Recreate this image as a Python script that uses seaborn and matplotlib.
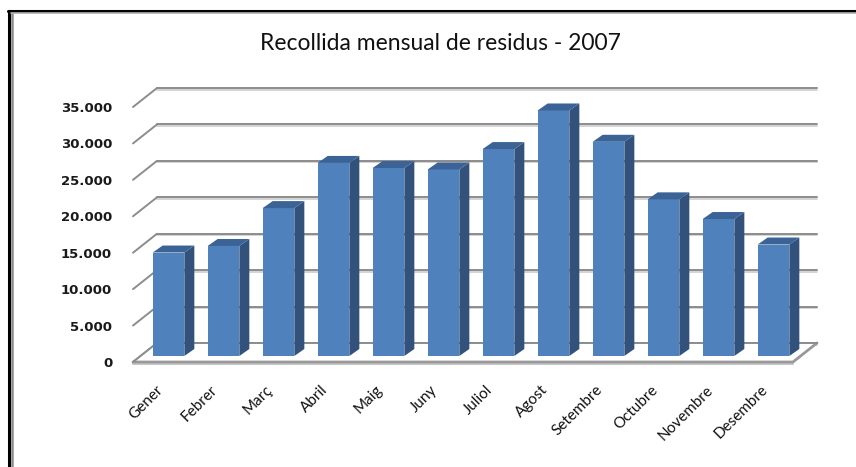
import matplotlib
matplotlib.use("Agg")
import numpy as np
import pandas as pd
import seaborn as sns
import matplotlib.pyplot as plt
from matplotlib.transforms import Affine2D, IdentityTransform
from matplotlib.patches import Polygon
from matplotlib.lines import Line2D

# ---- data ----
months = ["Gener", "Febrer", "Març", "Abril", "Maig", "Juny",
          "Juliol", "Agost", "Setembre", "Octubre", "Novembre", "Desembre"]
values = [14200, 15100, 20300, 26500, 25800, 25600,
          28400, 33700, 29400, 21500, 18800, 15300]
yticks = [0, 5000, 10000, 15000, 20000, 25000, 30000, 35000]
ytick_labels = ["0", "5.000", "10.000", "15.000", "20.000", "25.000", "30.000", "35.000"]
title = "Recollida mensual de residus - 2007"

sns.set_theme(style="white")
plt.rcParams["font.family"] = ["DejaVu Sans"]

W, H = 856, 467
fig = plt.figure(figsize=(W / 100, H / 100), dpi=100)
fig.patch.set_facecolor("white")

# front plane of the 3-D box
ax = fig.add_axes([133 / W, 105 / H, 660 / W, 255 / H])
ax.set_facecolor("none")

df = pd.DataFrame({"mes": months, "tones": values})
sns.barplot(data=df, x="mes", y="tones", color="#4F81BD", saturation=1,
            width=0.576, linewidth=0, ax=ax, zorder=5)
ax.set_xlim(-0.5, 11.5)
ax.set_ylim(0, 35000)

FRONT = "#4F81BD"
SIDE = "#32527C"
TOP = "#3B6396"
GRID = "#8C8C8C"

# depth offsets in pixels
WALL = (24, 19)      # back wall offset from front plane
BAR_OFF = (8, 6)     # bar front face offset
BAR_D = (10, 7)      # bar depth

wall_tr = ax.transData + Affine2D().translate(*WALL)
ident = IdentityTransform()

# back wall gridlines
for v in yticks:
    ax.plot([-0.5, 11.5], [v, v], transform=wall_tr + Affine2D().translate(0, -1.5),
            color="#D0D0D0", lw=1.3, clip_on=False, zorder=1)
    ax.plot([-0.5, 11.5], [v, v], transform=wall_tr, color=GRID, lw=1.4,
            clip_on=False, zorder=1.1)
    # left side wall diagonal
    (x0, y0) = ax.transData.transform((-0.5, v))
    ax.plot([x0, x0 + WALL[0]], [y0, y0 + WALL[1]], transform=ident,
            color=GRID, lw=1.4, clip_on=False, zorder=1.1)

# floor
(fl, fy) = ax.transData.transform((-0.5, 0))
(fr, _) = ax.transData.transform((11.5, 0))
floor = Polygon([(fl, fy), (fr, fy), (fr + WALL[0], fy + WALL[1]), (fl + WALL[0], fy + WALL[1])],
                closed=True, facecolor="white", edgecolor="none", transform=ident,
                clip_on=False, zorder=1.5)
bars = list(ax.patches)
ax.add_patch(floor)
ax.plot([fl, fr], [fy - 1.5, fy - 1.5], transform=ident, color="#C8C8C8", lw=1.5,
        clip_on=False, zorder=1.6)
ax.plot([fl, fr, fr + WALL[0]], [fy, fy, fy + WALL[1]], transform=ident, color="#999999",
        lw=2.0, clip_on=False, zorder=1.7, solid_joinstyle="miter")
ax.plot([fl, fl + WALL[0]], [fy, fy + WALL[1]], transform=ident, color=GRID, lw=1.4,
        clip_on=False, zorder=1.7)
ax.plot([fl + WALL[0], fr + WALL[0]], [fy + WALL[1], fy + WALL[1]], transform=ident,
        color=GRID, lw=1.4, clip_on=False, zorder=1.8)

# 3-D bars built from the seaborn bar patches
for p in bars:
    p.set_transform(ax.transData + Affine2D().translate(*BAR_OFF))
    p.set_clip_on(False)
    x = p.get_x(); w = p.get_width(); h = p.get_height()
    (lx, by), (rx, ty) = ax.transData.transform([(x, 0), (x + w, h)])
    lx += BAR_OFF[0]; rx += BAR_OFF[0]; by += BAR_OFF[1]; ty += BAR_OFF[1]
    dx, dy = BAR_D
    side = Polygon([(rx, by), (rx + dx, by + dy), (rx + dx, ty + dy), (rx, ty)], closed=True,
                   facecolor=SIDE, edgecolor="none", transform=ident, clip_on=False, zorder=5)
    top = Polygon([(lx, ty), (rx, ty), (rx + dx, ty + dy), (lx + dx, ty + dy)], closed=True,
                  facecolor=TOP, edgecolor="none", transform=ident, clip_on=False, zorder=5)
    ax.add_patch(side)
    ax.add_patch(top)

ax.set_xlim(-0.5, 11.5)
ax.set_ylim(0, 35000)

# axes styling
for s in ax.spines.values():
    s.set_visible(False)
ax.set_xlabel("")
ax.set_ylabel("")
ax.set_yticks(yticks)
ax.set_yticklabels(ytick_labels, fontsize=9.5, fontweight="bold", color="#1a1a1a")
ax.set_xticks(range(len(months)))
ax.set_xticklabels(months, rotation=45, ha="right", rotation_mode="anchor",
                   fontsize=11, family=["Lato", "DejaVu Sans"], color="#111111")
ax.tick_params(axis="y", length=0, pad=15)
ax.tick_params(axis="x", length=0, pad=15)
for lab in ax.get_xticklabels():
    lab.set_transform(lab.get_transform() + Affine2D().translate(-5, 0))

fig.text(440 / W, 1 - 43 / H, title, ha="center", va="center", fontsize=16.5,
         family=["Lato", "DejaVu Sans"], color="#111111")

# frame of the chart
fig.add_artist(Line2D([8, W], [H - 11, H - 11], transform=ident, color="black", lw=2.2))
fig.add_artist(Line2D([9, 9], [0, H - 11], transform=ident, color="black", lw=2.2))
fig.add_artist(Line2D([12, 12], [0, H - 12.5], transform=ident, color="#8C8C8C", lw=1.8))
fig.add_artist(Line2D([11, W], [H - 13, H - 13], transform=ident, color="#B0B0B0", lw=1.2))

fig.savefig("out.png", dpi=100, facecolor="white")
